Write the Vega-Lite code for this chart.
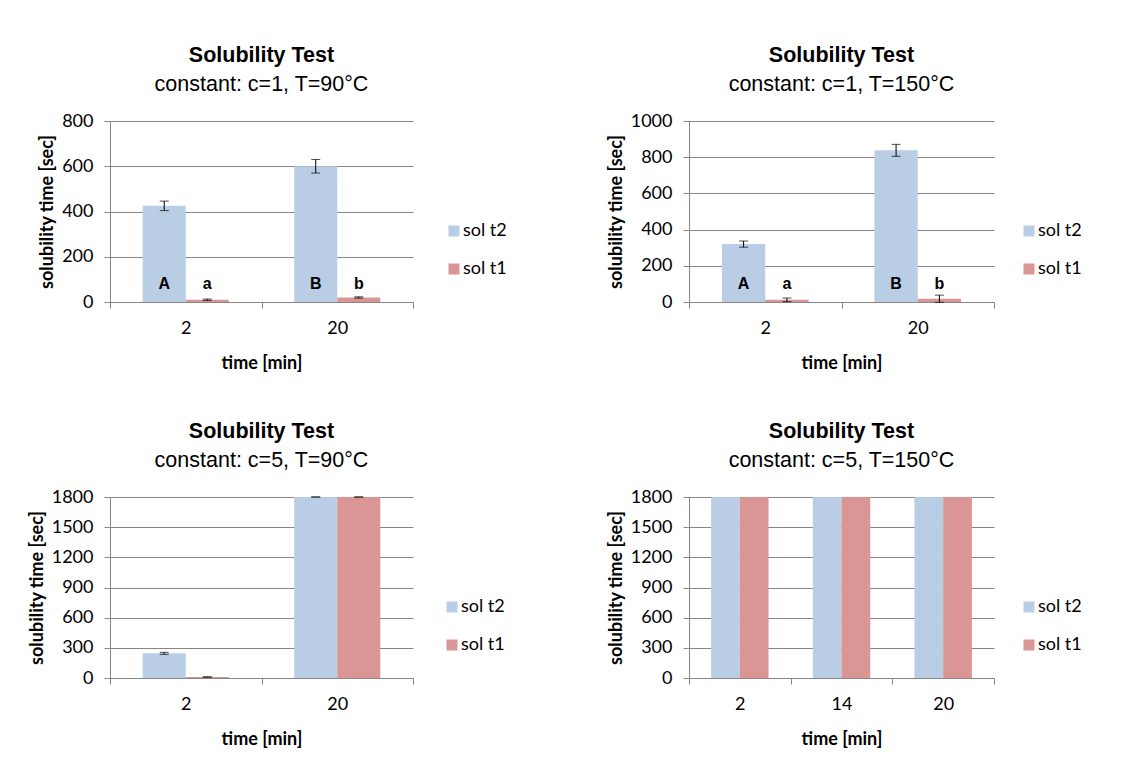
{
  "$schema": "https://vega.github.io/schema/vega-lite/v6.json",
  "padding": {"left": 28, "top": 45, "right": 0, "bottom": 0},
  "background": "white",
  "config": {
    "view": {"stroke": null},
    "font": "Lato",
    "title": {"font": "Liberation Sans", "fontSize": 21.5, "fontWeight": "bold", "color": "black", "subtitleFont": "Liberation Sans", "subtitleFontSize": 21.5, "subtitleColor": "black", "frame": "group", "anchor": "middle", "offset": 17, "subtitlePadding": 7},
    "axis": {"labelFont": "Lato", "labelFontSize": 18, "labelColor": "black", "titleFont": "Lato", "titleFontSize": 18, "titleFontWeight": "bold", "titleColor": "black", "domainColor": "#868686", "tickColor": "#868686", "gridColor": "#868686", "tickSize": 6},
    "axisX": {"grid": false, "labelAngle": 0, "tickBand": "extent", "labelPadding": 11, "titlePadding": 17},
    "axisY": {"grid": true, "labelPadding": 11, "titlePadding": 5, "format": "d"},
    "legend": {"title": null, "symbolType": "square", "symbolSize": 121, "symbolStrokeWidth": 0, "labelFont": "Lato", "labelFontSize": 18, "labelColor": "black", "rowPadding": 20, "labelOffset": 0}
  },
  "datasets": {
    "d": [
      {"panel": "p1", "time": 2, "series": "sol t2", "value": 425, "err": 21, "letter": "A"},
      {"panel": "p1", "time": 2, "series": "sol t1", "value": 10, "err": 3, "letter": "a"},
      {"panel": "p1", "time": 20, "series": "sol t2", "value": 600, "err": 30, "letter": "B"},
      {"panel": "p1", "time": 20, "series": "sol t1", "value": 20, "err": 3, "letter": "b"},
      {"panel": "p2", "time": 2, "series": "sol t2", "value": 320, "err": 17, "letter": "A"},
      {"panel": "p2", "time": 2, "series": "sol t1", "value": 12, "err": 10, "letter": "a"},
      {"panel": "p2", "time": 20, "series": "sol t2", "value": 838, "err": 33, "letter": "B"},
      {"panel": "p2", "time": 20, "series": "sol t1", "value": 18, "err": 20, "letter": "b"},
      {"panel": "p3", "time": 2, "series": "sol t2", "value": 245, "err": 10, "letter": null},
      {"panel": "p3", "time": 2, "series": "sol t1", "value": 10, "err": 2, "letter": null},
      {"panel": "p3", "time": 20, "series": "sol t2", "value": 1800, "err": 0, "letter": null},
      {"panel": "p3", "time": 20, "series": "sol t1", "value": 1800, "err": 0, "letter": null},
      {"panel": "p4", "time": 2, "series": "sol t2", "value": 1800, "err": null, "letter": null},
      {"panel": "p4", "time": 2, "series": "sol t1", "value": 1800, "err": null, "letter": null},
      {"panel": "p4", "time": 14, "series": "sol t2", "value": 1800, "err": null, "letter": null},
      {"panel": "p4", "time": 14, "series": "sol t1", "value": 1800, "err": null, "letter": null},
      {"panel": "p4", "time": 20, "series": "sol t2", "value": 1800, "err": null, "letter": null},
      {"panel": "p4", "time": 20, "series": "sol t1", "value": 1800, "err": null, "letter": null}
    ]
  },
  "columns": 2,
  "align": "none",
  "spacing": {"row": 49, "column": 100},
  "resolve": {"scale": {"color": "independent", "xOffset": "independent", "x": "independent", "y": "independent"}, "legend": {"color": "independent"}},
  "concat": [
    {
      "width": 303, "height": 181,
      "title": {"text": "Solubility Test", "subtitle": "constant: c=1, T=90°C"},
      "data": {"name": "d"},
      "transform": [{"filter": "datum.panel === 'p1'"}, {"calculate": "datum.value - datum.err", "as": "lo"}, {"calculate": "datum.value + datum.err", "as": "hi"}],
      "encoding": {
        "x": {"field": "time", "type": "ordinal", "title": "time [min]", "scale": {"paddingInner": 0, "paddingOuter": 0}},
        "xOffset": {"field": "series", "type": "nominal", "sort": ["sol t2", "sol t1"], "scale": {"paddingInner": 0, "paddingOuter": 0.76}}
      },
      "layer": [
        {"mark": {"type": "bar"}, "encoding": {
          "y": {"field": "value", "type": "quantitative", "title": "solubility time [sec]", "scale": {"domain": [0, 800]}, "axis": {"values": [0, 200, 400, 600, 800]}},
          "color": {"field": "series", "type": "nominal", "sort": ["sol t2", "sol t1"], "scale": {"domain": ["sol t2", "sol t1"], "range": ["#B9CDE5", "#D99694"]}, "legend": {"orient": "none", "legendX": 335, "legendY": 101}}}},
        {"transform": [{"filter": "isValid(datum.err)"}], "mark": {"type": "rule", "color": "black"}, "encoding": {"y": {"field": "lo", "type": "quantitative", "title": "solubility time [sec]", "axis": {"values": [0, 200, 400, 600, 800]}}, "y2": {"field": "hi"}}},
        {"transform": [{"filter": "isValid(datum.err)"}], "mark": {"type": "tick", "color": "black", "size": 9, "thickness": 1}, "encoding": {"y": {"field": "lo", "type": "quantitative", "title": "solubility time [sec]", "axis": {"values": [0, 200, 400, 600, 800]}}}},
        {"transform": [{"filter": "isValid(datum.err)"}], "mark": {"type": "tick", "color": "black", "size": 9, "thickness": 1}, "encoding": {"y": {"field": "hi", "type": "quantitative", "title": "solubility time [sec]", "axis": {"values": [0, 200, 400, 600, 800]}}}},
        {"transform": [{"filter": "datum.letter"}], "mark": {"type": "text", "font": "Liberation Sans", "fontSize": 16, "fontWeight": "bold", "baseline": "alphabetic", "dy": -13, "color": "black"}, "encoding": {"y": {"datum": 0, "type": "quantitative", "title": "solubility time [sec]", "axis": {"values": [0, 200, 400, 600, 800]}}, "text": {"field": "letter"}}}
      ]
    },
    {
      "width": 305, "height": 181,
      "title": {"text": "Solubility Test", "subtitle": "constant: c=1, T=150°C"},
      "data": {"name": "d"},
      "transform": [{"filter": "datum.panel === 'p2'"}, {"calculate": "datum.value - datum.err", "as": "lo"}, {"calculate": "datum.value + datum.err", "as": "hi"}],
      "encoding": {
        "x": {"field": "time", "type": "ordinal", "title": "time [min]", "scale": {"paddingInner": 0, "paddingOuter": 0}},
        "xOffset": {"field": "series", "type": "nominal", "sort": ["sol t2", "sol t1"], "scale": {"paddingInner": 0, "paddingOuter": 0.76}}
      },
      "layer": [
        {"mark": {"type": "bar"}, "encoding": {
          "y": {"field": "value", "type": "quantitative", "title": "solubility time [sec]", "scale": {"domain": [0, 1000]}, "axis": {"values": [0, 200, 400, 600, 800, 1000]}},
          "color": {"field": "series", "type": "nominal", "sort": ["sol t2", "sol t1"], "scale": {"domain": ["sol t2", "sol t1"], "range": ["#B9CDE5", "#D99694"]}, "legend": {"orient": "none", "legendX": 331, "legendY": 101}}}},
        {"transform": [{"filter": "isValid(datum.err)"}], "mark": {"type": "rule", "color": "black"}, "encoding": {"y": {"field": "lo", "type": "quantitative", "title": "solubility time [sec]", "axis": {"values": [0, 200, 400, 600, 800, 1000]}}, "y2": {"field": "hi"}}},
        {"transform": [{"filter": "isValid(datum.err)"}], "mark": {"type": "tick", "color": "black", "size": 9, "thickness": 1}, "encoding": {"y": {"field": "lo", "type": "quantitative", "title": "solubility time [sec]", "axis": {"values": [0, 200, 400, 600, 800, 1000]}}}},
        {"transform": [{"filter": "isValid(datum.err)"}], "mark": {"type": "tick", "color": "black", "size": 9, "thickness": 1}, "encoding": {"y": {"field": "hi", "type": "quantitative", "title": "solubility time [sec]", "axis": {"values": [0, 200, 400, 600, 800, 1000]}}}},
        {"transform": [{"filter": "datum.letter"}], "mark": {"type": "text", "font": "Liberation Sans", "fontSize": 16, "fontWeight": "bold", "baseline": "alphabetic", "dy": -13, "color": "black"}, "encoding": {"y": {"datum": 0, "type": "quantitative", "title": "solubility time [sec]", "axis": {"values": [0, 200, 400, 600, 800, 1000]}}, "text": {"field": "letter"}}}
      ]
    },
    {
      "width": 303, "height": 181,
      "title": {"text": "Solubility Test", "subtitle": "constant: c=5, T=90°C"},
      "data": {"name": "d"},
      "transform": [{"filter": "datum.panel === 'p3'"}, {"calculate": "datum.value - datum.err", "as": "lo"}, {"calculate": "datum.value + datum.err", "as": "hi"}],
      "encoding": {
        "x": {"field": "time", "type": "ordinal", "title": "time [min]", "scale": {"paddingInner": 0, "paddingOuter": 0}},
        "xOffset": {"field": "series", "type": "nominal", "sort": ["sol t2", "sol t1"], "scale": {"paddingInner": 0, "paddingOuter": 0.76}}
      },
      "layer": [
        {"mark": {"type": "bar"}, "encoding": {
          "y": {"field": "value", "type": "quantitative", "title": "solubility time [sec]", "scale": {"domain": [0, 1800]}, "axis": {"values": [0, 300, 600, 900, 1200, 1500, 1800]}},
          "color": {"field": "series", "type": "nominal", "sort": ["sol t2", "sol t1"], "scale": {"domain": ["sol t2", "sol t1"], "range": ["#B9CDE5", "#D99694"]}, "legend": {"orient": "none", "legendX": 333, "legendY": 101}}}},
        {"transform": [{"filter": "isValid(datum.err)"}], "mark": {"type": "rule", "color": "black"}, "encoding": {"y": {"field": "lo", "type": "quantitative", "title": "solubility time [sec]", "axis": {"values": [0, 300, 600, 900, 1200, 1500, 1800]}}, "y2": {"field": "hi"}}},
        {"transform": [{"filter": "isValid(datum.err)"}], "mark": {"type": "tick", "color": "black", "size": 9, "thickness": 1}, "encoding": {"y": {"field": "lo", "type": "quantitative", "title": "solubility time [sec]", "axis": {"values": [0, 300, 600, 900, 1200, 1500, 1800]}}}},
        {"transform": [{"filter": "isValid(datum.err)"}], "mark": {"type": "tick", "color": "black", "size": 9, "thickness": 1}, "encoding": {"y": {"field": "hi", "type": "quantitative", "title": "solubility time [sec]", "axis": {"values": [0, 300, 600, 900, 1200, 1500, 1800]}}}}
      ]
    },
    {
      "width": 305, "height": 181,
      "title": {"text": "Solubility Test", "subtitle": "constant: c=5, T=150°C"},
      "data": {"name": "d"},
      "transform": [{"filter": "datum.panel === 'p4'"}],
      "encoding": {
        "x": {"field": "time", "type": "ordinal", "title": "time [min]", "scale": {"paddingInner": 0, "paddingOuter": 0}},
        "xOffset": {"field": "series", "type": "nominal", "sort": ["sol t2", "sol t1"], "scale": {"paddingInner": 0, "paddingOuter": 0.77}}
      },
      "layer": [
        {"mark": {"type": "bar"}, "encoding": {
          "y": {"field": "value", "type": "quantitative", "title": "solubility time [sec]", "scale": {"domain": [0, 1800]}, "axis": {"values": [0, 300, 600, 900, 1200, 1500, 1800]}},
          "color": {"field": "series", "type": "nominal", "sort": ["sol t2", "sol t1"], "scale": {"domain": ["sol t2", "sol t1"], "range": ["#B9CDE5", "#D99694"]}, "legend": {"orient": "none", "legendX": 331, "legendY": 101}}}}
      ]
    }
  ]
}
